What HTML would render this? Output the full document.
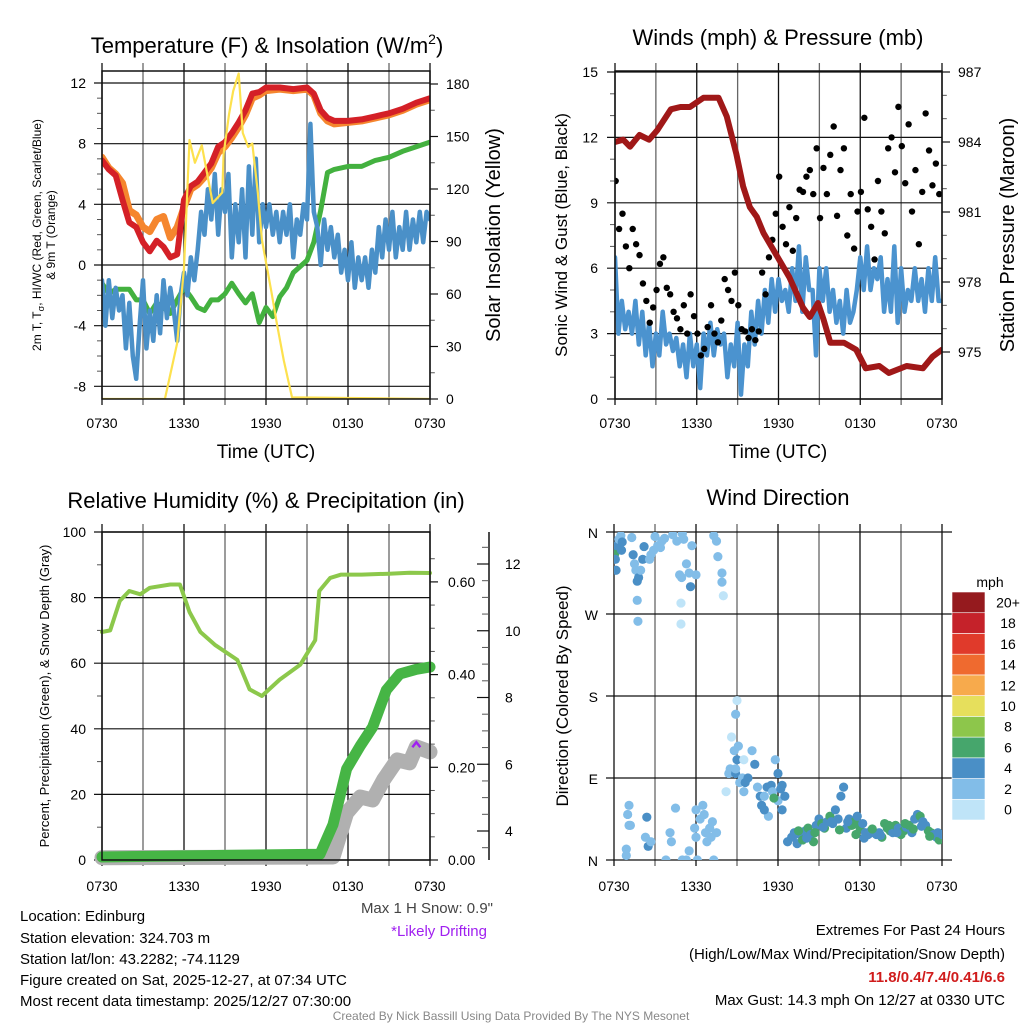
<!DOCTYPE html>
<html><head><meta charset="utf-8"><style>
html,body{margin:0;padding:0;background:#fff}
svg{display:block;font-family:"Liberation Sans",Arial,sans-serif}
</style></head><body>
<svg id="c" width="1024" height="1024" viewBox="0 0 1024 1024" xmlns="http://www.w3.org/2000/svg">
<text x="267" y="53" font-size="22" text-anchor="middle">Temperature (F) &amp; Insolation (W/m<tspan dy="-9" font-size="14">2</tspan><tspan dy="9">)</tspan></text>
<text x="778" y="45" font-size="22" text-anchor="middle">Winds (mph) &amp; Pressure (mb)</text>
<text x="266" y="508" font-size="22" text-anchor="middle">Relative Humidity (%) &amp; Precipitation (in)</text>
<text x="778" y="505" font-size="22" text-anchor="middle">Wind Direction</text>
<text x="266" y="458" font-size="19" text-anchor="middle">Time (UTC)</text>
<text x="778" y="458" font-size="19" text-anchor="middle">Time (UTC)</text>
<text transform="translate(41,235) rotate(-90)" font-size="12" text-anchor="middle">2m T, T<tspan dy="3" font-size="9">σ</tspan><tspan dy="-3">, HI/WC (Red, Green, Scarlet/Blue)</tspan></text>
<text transform="translate(55,235) rotate(-90)" font-size="12" text-anchor="middle">&amp; 9m T (Orange)</text>
<text transform="translate(500,235) rotate(-90)" font-size="20" text-anchor="middle">Solar Insolation (Yellow)</text>
<text transform="translate(567,235) rotate(-90)" font-size="17" text-anchor="middle">Sonic Wind &amp; Gust (Blue, Black)</text>
<text transform="translate(1014,235) rotate(-90)" font-size="20" text-anchor="middle">Station Pressure (Maroon)</text>
<text transform="translate(49,696) rotate(-90)" font-size="13" text-anchor="middle">Percent, Precipitation (Green), &amp; Snow Depth (Gray)</text>
<text transform="translate(568,696) rotate(-90)" font-size="17" text-anchor="middle">Direction (Colored By Speed)</text>
<text x="493" y="913" font-size="15" fill="#444" text-anchor="end">Max 1 H Snow: 0.9"</text>
<text x="487" y="936" font-size="15" fill="#a020f0" text-anchor="end">*Likely Drifting</text>
<g font-size="15">
<text x="20" y="921">Location: Edinburg</text>
<text x="20" y="943">Station elevation: 324.703 m</text>
<text x="20" y="964">Station lat/lon: 43.2282; -74.1129</text>
<text x="20" y="985">Figure created on Sat, 2025-12-27, at 07:34 UTC</text>
<text x="20" y="1006">Most recent data timestamp: 2025/12/27 07:30:00</text>
</g>
<g font-size="15" text-anchor="end">
<text x="1005" y="935">Extremes For Past 24 Hours</text>
<text x="1005" y="959">(High/Low/Max Wind/Precipitation/Snow Depth)</text>
<text x="1005" y="982" fill="#d01c1c" font-weight="bold">11.8/0.4/7.4/0.41/6.6</text>
<text x="1005" y="1005">Max Gust: 14.3 mph On 12/27 at 0330 UTC</text>
</g>
<text x="511" y="1020" font-size="12" fill="#888" text-anchor="middle">Created By Nick Bassill Using Data Provided By The NYS Mesonet</text>
<text x="990" y="587" font-size="14" text-anchor="middle">mph</text>
</svg>
<script>
// ---- Panel 1: temperature ----
const tempHours=[0,0.5,1,1.5,2,2.5,3,3.5,4,4.5,5,5.5,6,6.5,7,7.5,8,8.5,9,9.5,10,10.5,11,11.5,12,13,14,15,15.5,16,16.5,17,18,19,20,21,22,23,24];
const redT=[6.9,6.3,5.9,4.3,2.8,2.5,1.5,0.9,1.6,1.2,0.5,0.7,4.3,5.2,5.5,6.1,6.7,7.8,8.1,8.7,9.4,10.2,11.3,11.4,11.7,11.7,11.6,11.7,11.3,10.2,9.7,9.5,9.5,9.6,9.8,10.0,10.3,10.7,11.0];
const orangeT=[7.1,6.4,6.0,5.4,3.6,3.3,2.5,2.2,3.0,3.2,1.8,2.5,3.8,5.0,5.3,5.8,6.4,7.4,7.8,8.4,9.1,9.9,11.0,11.2,11.5,11.6,11.5,11.6,11.2,10.0,9.5,9.3,9.4,9.5,9.7,9.9,10.2,10.6,10.9];
const greenHours=[0,0.5,1,2,2.5,3,3.5,4,4.5,5,5.5,6,6.5,7,7.5,8,8.5,9,9.5,10,10.5,11,11.5,12,12.5,13,13.5,14,14.5,15,15.5,16,16.5,17,17.5,18,19,20,21,22,23,24];
const greenT=[-1.2,-1.9,-1.6,-1.6,-2.3,-2.3,-3.2,-2.5,-2.8,-3.2,-2.3,-1.5,-2.1,-2.8,-3.0,-2.3,-2.3,-1.9,-1.2,-1.9,-2.5,-1.9,-3.8,-2.8,-3.4,-2.1,-1.5,-0.5,-0.1,0.3,1.5,3.6,6.1,6.3,6.4,6.5,6.5,6.9,7.1,7.5,7.8,8.1];
const blueT=[-1,-4,-1,-3.5,-1.5,-3,-2,-5.5,-2.5,-6,-7.5,-4,-1,-5.5,-3,-5,-2,-4.5,-1,-3.5,-1.5,-3,-5,-2,-0.5,-2,0.5,-1,1,3.5,2,5,3,6,2,5,3.5,6,0.5,4,1.5,5,0.5,6.5,2,7,1.5,4,2.5,4,2,3.5,1.5,3.5,2,4,0.5,3,2,4,3,9.3,3.5,2.5,0,3,1,2.5,0.5,2,-0.5,1,-1,1.5,-1.5,0.5,-1,0.5,-1.5,1,-0.5,2.5,0.5,3,1,3.5,0.5,2.5,1,3.5,1,3,1.5,3.5,1.5,3.5,3];
const insolHours=[0,4.6,5.5,6,6.4,6.8,7.3,8.1,8.8,8.9,9.3,9.6,10,10.3,10.7,11,11.4,11.7,12.4,12.8,13.3,13.9,24];
const insolValues=[0,0,32,75,148,135,145,112,118,140,163,176,186,152,144,146,118,91,61,43,22,1,0];
const tempTicks=[-8,-4,0,4,8,12];
const insolTicks=[0,30,60,90,120,150,180];
// ---- Panel 2: winds ----
const presHours=[0,0.6,1.1,1.8,2.5,3.1,4.1,4.8,5.5,6.5,7.6,8.2,8.9,9.4,9.9,10.4,10.9,11.9,12.8,13.8,14.3,14.9,15.3,15.8,16.8,17.7,18.4,19.4,20.1,21.4,22.6,23.3,24];
const presValues=[984.0,984.1,983.8,984.3,984.1,984.5,985.4,985.5,985.5,985.9,985.9,985.1,983.5,982.1,981.2,980.8,980.1,979.1,978.2,976.9,976.5,977.1,976.4,975.4,975.4,975.1,974.3,974.4,974.1,974.4,974.3,974.8,975.1];
const windValues=[6.5,3,4.5,3.2,4,3,4.5,2.5,4,2,3.5,1.5,3,2,4,2.5,3,2.2,2.8,1.5,2.5,1,3,1.5,2.5,0.5,3,2,3.5,2,3.2,2.5,3,1,2.5,1.5,3.5,0.2,2.5,1.5,4,2.5,4.5,3,5,3.5,5.5,4,5.5,4.5,5,4,6,4.5,7,4,6.5,5,5,2,6,4.5,6,4,5,3.5,4.5,3,5,3.5,4,5,6.5,5,7,5,6,5.5,6.5,4,5.5,4,7,3.5,6,4,5,4.5,6,4.5,5.5,4,6,4.5,6.5,4.5,4.5];
const gustValues=[10,7.8,8.5,7,6,7.8,7.1,6.6,5.3,4.5,3.5,4.2,5,6.2,6.5,5.1,4.8,4,3.7,3.2,4.3,3,4.8,3.8,3,2,2.3,3.3,4.3,3,2.6,3.6,5.5,5,4.5,5.8,4.3,3.2,3.1,2.8,3.2,2.7,3.1,5.8,4.8,6.5,7.3,8.5,10.2,7.9,7.1,8.8,6.8,8.3,9.6,9.5,10.2,10.5,9.4,11.5,8.3,10.6,9.4,11.2,12.5,8.4,10.5,11.5,7.5,9.4,6.9,8.6,9.5,12.9,8.7,7.9,6.4,10,8.6,7.6,11.5,12,10.4,13.4,11.6,9.9,12.6,8.6,10.5,7.1,9.5,13.1,11.4,9.8,10.8,9.4];
const windTicks=[0,3,6,9,12,15];
const presTicks=[975,978,981,984,987];
// ---- Panel 3: humidity ----
const rhHours=[0,0.6,1.3,2,2.8,3.5,5,5.7,6.4,7.2,8.3,9.9,10.8,11.7,13,14.5,15.6,15.9,16.7,17.5,19,21,22.5,24];
const rhValues=[69.5,70,79,82,81,83,84,84,75.6,69.5,65.5,61,52,50,55,59.5,67,82,86,87,87,87.3,87.6,87.5];
const precipHours=[0,15.95,16.9,17.9,18.9,19.8,20.8,21.8,23,24];
const precipValues=[0,0.006,0.07,0.19,0.24,0.28,0.36,0.395,0.405,0.41];
const snowHours=[0,16.9,17.9,18.9,19.8,20.6,21.6,22.5,23.0,24];
const snowValues=[3.2,3.22,4.54,5.02,4.93,5.53,6.13,6.04,6.52,6.37];
const rhTicks=[0,20,40,60,80,100];
const precipTicks=[0,0.2,0.4,0.6];
const snowTicks=[4,6,8,10,12];
// ---- Panel 4: direction ----
const dirHours=[0.05,0.1,0.15,0.2,0.35,0.5,0.6,0.55,1.3,1.4,1.5,1.6,1.7,1.8,1.7,1.75,2.1,2.2,1.95,2.6,2.7,2.9,3.0,3.2,3.4,3.5,3.7,4.3,4.6,5.0,5.1,4.8,4.95,4.9,4.9,5.3,5.5,5.6,5.7,6.0,7.3,7.5,7.6,7.9,7.9,8.0,
0.9,0.9,1.0,1.1,1.2,1.1,2.4,2.3,2.5,2.7,3.8,4.1,4.2,4.5,5.0,5.3,5.5,5.9,6.0,6.1,6.0,6.3,6.5,6.6,6.7,6.8,7.0,7.1,7.3,7.2,7.5,
8.6,8.9,9.0,8.8,8.5,8.2,8.4,8.9,9.0,9.1,9.5,8.9,9.2,9.4,9.6,9.5,9.8,10.1,10.3,10.5,10.7,10.8,11.0,11.2,11.5,11.6,11.3,11.0,11.8,12.0,12.2,12.3,12.0,11.7,12.5,12.3,
12.7,13.0,13.2,13.4,13.6,13.8,14.0,14.2,14.4,14.6,14.8,15.0,15.2,15.4,15.6,15.8,16.0,16.2,16.4,16.6,16.8,17.0,17.2,17.4,17.6,17.8,18.0,18.2,18.4,18.6,18.8,19.0,19.2,19.4,19.6,19.8,20.0,20.2,20.4,20.6,20.8,21.0,21.2,21.4,21.6,21.8,22.0,22.2,22.4,22.6,22.8,23.0,23.2,23.4,23.6,23.8,24.0,
13.1,13.5,14.1,14.7,15.3,15.9,16.5,17.1,17.7,18.3,18.9,19.5,20.1,20.7,21.3,21.9,22.5,23.1,23.7];
const dirValues=[336,330,318,345,352,356,349,340,354,335,325,318,306,310,285,262,330,344,318,330,335,340,355,345,343,350,353,357,350,358,352,313,310,282,259,325,315,300,345,313,356,350,333,315,305,290,
5,12,50,38,38,60,47,25,15,20,0,30,20,57,0,0,10,35,25,0,55,45,60,50,30,20,35,25,0,42,30,
135,160,175,120,100,75,95,95,110,125,110,100,85,90,85,75,90,120,105,80,70,60,70,80,82,75,48,55,110,95,78,82,65,68,70,55,
20,25,30,18,28,22,32,35,28,20,38,45,40,35,42,48,40,55,45,70,80,35,45,38,42,48,35,40,30,28,32,30,28,30,25,40,35,32,30,38,35,28,32,36,38,30,45,50,48,42,38,32,30,28,25,22,28,
26,32,24,30,36,42,33,42,28,24,34,27,38,30,40,34,37,26,30];
const dirSpeeds=[6,4,4,4,3,3,4,4,3,4,3,3,4,4,3,3,4,4,3,2,3,3,3,2,2,3,3,3,3,3,3,2,3,1,1,3,3,4,3,2,3,3,3,3,3,1,
3,3,3,3,3,3,4,3,4,3,3,3,3,3,3,2,3,2,3,3,2,3,3,3,3,3,3,3,3,3,3,
1,2,1,2,3,1,3,4,4,3,1,2,3,3,4,2,4,3,4,3,4,4,3,4,4,3,2,4,3,4,4,4,3,6,4,4,
4,4,4,4,4,6,4,6,4,6,4,4,6,6,4,6,4,4,4,4,4,4,4,6,6,4,6,4,4,4,4,4,4,4,6,6,6,6,4,6,4,6,6,4,6,4,4,4,6,4,4,6,6,4,4,6,4,
4,6,4,6,4,4,6,4,6,4,6,4,6,4,6,6,4,6,4];
const dirTickLabels=["N","E","S","W","N"];
const timeLabels=["0730","1330","1930","0130","0730"];
const speedLabels=["0","2","4","6","8","10","12","14","16","18","20+"];
const speedColors=["#bfe4f8","#82bde8","#4a8fc6","#46a66c","#8dc64b","#e6df5c","#f7aa4c","#ef6a2f","#e03a2b","#c5222a","#951a1e"];

const NS="http://www.w3.org/2000/svg";
const svg=document.getElementById('c');
function mk(tag,attrs,parent){const e=document.createElementNS(NS,tag);for(const k in attrs)e.setAttribute(k,attrs[k]);(parent||svg).appendChild(e);return e;}
function lin(d0,d1,r0,r1){return v=>r0+(v-d0)*(r1-r0)/(d1-d0);}
function pathD(xs,ys,fx,fy){return xs.map((h,i)=>(i?'L':'M')+fx(h).toFixed(1)+','+fy(ys[i]).toFixed(1)).join('');}
function panelFrame(name,x0,x1,y0,y1,clipId){
  const g=mk('g',{});
  
  
  const cp=mk('clipPath',{id:clipId},g);mk('rect',{x:x0,y:y0,width:x1-x0,height:y1-y0},cp);
  return g;
}
function vgrid(g,fx,y0,y1){for(let h=0;h<=24;h+=3){const l=mk('line',{x1:fx(h),x2:fx(h),y1:y0-8,y2:y1+6,stroke:(h%6===0)?'#111':'#666','stroke-width':1.3},g);}}
function xlabels(g,fx,y){timeLabels.forEach((t,i)=>{const e=mk('text',{x:fx(i*6),y:y,'font-size':14,'text-anchor':'middle'},g);e.textContent=t;});}
function hgrid(g,ticks,fy,x0,x1){ticks.forEach(v=>{const l=mk('line',{x1:x0-8,x2:x1,y1:fy(v),y2:fy(v),stroke:'#111','stroke-width':1.2},g);});}
function ylabels(g,ticks,fy,x,anchor,fmt){ticks.forEach(v=>{const e=mk('text',{x:x,y:fy(v)+5,'font-size':14,'text-anchor':anchor},g);e.textContent=fmt?fmt(v):String(v);});}
function rticks(g,ticks,minor,fy,x,len){ticks.forEach(v=>mk('line',{x1:x,x2:x+len,y1:fy(v),y2:fy(v),stroke:'#111','stroke-width':1.2},g));minor.forEach(v=>mk('line',{x1:x,x2:x+len*0.6,y1:fy(v),y2:fy(v),stroke:'#555','stroke-width':1},g));}
function box(g,x0,x1,y0,y1){const r=mk('rect',{x:x0,y:y0,width:x1-x0,height:y1-y0,fill:'none',stroke:'#111','stroke-width':1.5},g);}
function series(g,name,xs,ys,fx,fy,color,w,clip){const a={d:pathD(xs,ys,fx,fy),fill:'none',stroke:color,'stroke-width':w,'stroke-linejoin':'round','stroke-linecap':'round'};if(clip)a['clip-path']='url(#'+clip+')';const p=mk('path',a,g);return p;}
const idxHours=n=>Array.from({length:n},(_,i)=>i*24/(n-1));

// Panel 1
(function(){
  const x0=102,x1=430,y0=71,y1=399;
  const fx=lin(0,24,x0,x1), fy=lin(0,12,265,83), fi=lin(0,180,399,84);
  const g=panelFrame('temperature-panel',x0,x1,y0,y1,'cp1');
  vgrid(g,fx,y0,y1);hgrid(g,tempTicks,fy,x0,x1);
  const minor=[];for(let v=-8;v<=12;v+=1)if(v%4)minor.push(v);
  minor.forEach(v=>mk('line',{x1:x0-5,x2:x0,y1:fy(v),y2:fy(v),stroke:'#555'},g));
  rticks(g,insolTicks,[15,45,75,105,135,165],fi,x1,8);
  series(g,'series-9m-temp-orange',tempHours,orangeT,fx,fy,'#f5862e',7,'cp1');
  series(g,'series-2m-temp-red',tempHours,redT,fx,fy,'#d42027',6,'cp1');
  series(g,'series-heat-index-green',greenHours,greenT,fx,fy,'#43b13f',5,'cp1');
  series(g,'series-blue-temp',idxHours(blueT.length),blueT,fx,fy,'#4a90c8',4.5,'cp1');
  series(g,'series-insolation-yellow',insolHours,insolValues,fx,fi,'#fde14e',2.2,'cp1');
  box(g,x0,x1,y0,y1);
  ylabels(g,tempTicks,fy,86,'end');ylabels(g,insolTicks,fi,446,'start');xlabels(g,fx,428);
})();
// Panel 2
(function(){
  const x0=615,x1=942,y0=71,y1=399;
  const fx=lin(0,24,x0,x1), fy=lin(0,15,399,72), fp=lin(975,987,352,72);
  const g=panelFrame('winds-panel',x0,x1,y0,y1,'cp2');
  vgrid(g,fx,y0,y1);hgrid(g,windTicks,fy,x0,x1);
  [1,2,4,5,7,8,10,11,13,14].forEach(v=>mk('line',{x1:x0-5,x2:x0,y1:fy(v),y2:fy(v),stroke:'#555'},g));
  rticks(g,presTicks,[976,977,979,980,982,983,985,986],fp,x1,8);
  series(g,'series-sonic-wind-blue',idxHours(windValues.length),windValues,fx,fy,'#4b93cf',4.5,'cp2');
  gustValues.forEach((v,i)=>{const c=mk('circle',{cx:fx(i*0.25+0.05),cy:fy(v),r:3.2,fill:'#000','clip-path':'url(#cp2)'},g);
    
    });
  series(g,'series-pressure-maroon',presHours,presValues,fx,fp,'#a01818',6,'cp2');
  box(g,x0,x1,y0,y1);
  ylabels(g,windTicks,fy,598,'end');ylabels(g,presTicks,fp,958,'start');xlabels(g,fx,428);
})();
// Panel 3
(function(){
  const x0=102,x1=430,y0=532,y1=860;
  const fx=lin(0,24,x0,x1), fy=lin(0,100,860,532), fpr=lin(0,0.2,857,764.3), fs=lin(4,12,831,564);
  const g=panelFrame('humidity-panel',x0,x1,y0,y1,'cp3');
  vgrid(g,fx,y0,y1);hgrid(g,rhTicks,fy,x0,x1);
  [10,30,50,70,90].forEach(v=>mk('line',{x1:x0-5,x2:x0,y1:fy(v),y2:fy(v),stroke:'#555'},g));
  const fprT=lin(0,0.2,860,767.3);
  rticks(g,precipTicks,[0.05,0.1,0.15,0.25,0.3,0.35,0.45,0.5,0.55,0.65],fprT,x1,8);
  const ax=mk('line',{x1:489,x2:489,y1:532,y2:860,stroke:'#111','stroke-width':1.5},g);
  
  const sm=[];for(let v=3.5;v<=12.5;v+=0.5)if(v%2)sm.push(v);
  snowTicks.forEach(v=>mk('line',{x1:477,x2:489,y1:fs(v),y2:fs(v),stroke:'#111','stroke-width':1.2},g));
  sm.forEach(v=>mk('line',{x1:482,x2:489,y1:fs(v),y2:fs(v),stroke:'#555'},g));
  series(g,'series-rh-lightgreen',rhHours,rhValues,fx,fy,'#8cc84b',4,null);
  series(g,'series-snow-depth-gray',snowHours,snowValues,fx,fs,'#b0b0b0',15,null);
  series(g,'series-precip-green',precipHours,precipValues,fx,fpr,'#46b545',11,null);
  const dm=mk('path',{d:'M'+(fx(23.0)-4)+','+(fs(6.6)+3)+'l4,-5l4,5',fill:'none',stroke:'#a020f0','stroke-width':2.5},g);
  
  box(g,x0,x1,y0,y1);
  ylabels(g,rhTicks,fy,86,'end');ylabels(g,precipTicks,fprT,448,'start',v=>v.toFixed(2));ylabels(g,snowTicks,fs,505,'start');xlabels(g,fx,891);
})();
// Panel 4
(function(){
  const x0=614,x1=942,y0=532,y1=860;
  const fx=lin(0,24,x0,x1), fy=lin(0,360,860,532);
  const g=panelFrame('direction-panel',x0,x1,y0,y1,'cp4');
  vgrid(g,fx,y0,y1);hgrid(g,[0,90,180,270,360],fy,x0,x1+10);
  dirTickLabels.forEach((t,i)=>{const e=mk('text',{x:598,y:fy(i*90)+6,'font-size':14,'text-anchor':'end'},g);e.textContent=t;});
  dirValues.forEach((v,i)=>{const b=Math.min(10,Math.floor(dirSpeeds[i]/2));const c=mk('circle',{cx:fx(dirHours[i]),cy:fy(v),r:4.6,fill:speedColors[b],'clip-path':'url(#cp4)'},g);
    
    });
  xlabels(g,fx,891);
  const cb=mk('g',{},g);
  const bh=228/11;
  speedColors.forEach((col,i)=>{const yy=592+(10-i)*bh;const r=mk('rect',{x:952,y:yy,width:33,height:bh,fill:col,stroke:'#fff','stroke-width':0.6},cb);
    
    
    const t=mk('text',{x:1008,y:yy+bh/2+5,'font-size':14,'text-anchor':'middle'},cb);t.textContent=speedLabels[i];
    
    });
})();
</script>
</body></html>
